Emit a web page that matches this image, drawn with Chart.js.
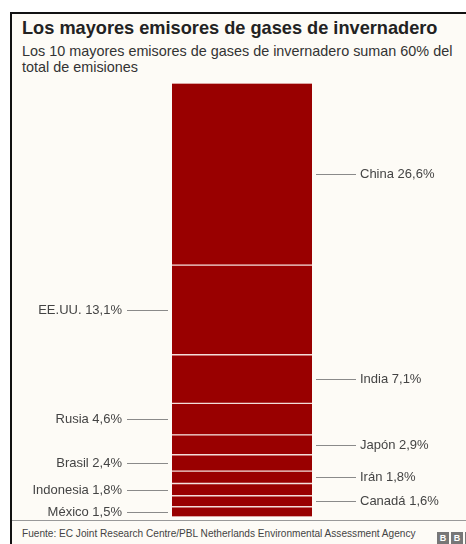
<!DOCTYPE html>
<html>
<head>
<meta charset="utf-8">
<script src="https://cdn.jsdelivr.net/npm/chart.js@4"></script>
<style>
  html, body { margin: 0; padding: 0; width: 466px; height: 544px; overflow: hidden; background: #fff; }
  #frame {
    position: absolute; left: 10px; top: 12px; width: 470px; height: 540px;
    border-left: 2px solid #111; border-top: 2px solid #111;
    background: #fdfbf6; font-family: "Liberation Sans", Arial, sans-serif;
  }
  #title { position: absolute; left: 10px; top: 4px; font-size: 18.2px; font-weight: bold; color: #222; white-space: nowrap; }
  #subtitle { position: absolute; left: 10px; top: 29px; width: 436px; font-size: 14.4px; line-height: 16px; color: #333; }
  #chartBox { position: absolute; left: -12px; top: 63px; width: 466px; height: 443px; }
  #footer { position: absolute; left: 0; top: 506px; width: 470px; border-top: 1px solid #999; height: 30px; }
  #source { position: absolute; left: 10px; top: 7px; font-size: 10.1px; color: #444; white-space: nowrap; }
  #logo { position: absolute; left: 425px; top: 6px; }
  #logo span { display: inline-block; width: 12px; height: 12px; margin-right: 2px; background: #777; color: #fff; font-size: 9px; font-weight: bold; text-align: center; line-height: 12px; }
</style>
</head>
<body>
<div id="frame">
  <div id="title">Los mayores emisores de gases de invernadero</div>
  <div id="subtitle">Los 10 mayores emisores de gases de invernadero suman 60% del total de emisiones</div>
  <div id="chartBox"><canvas id="emisores"></canvas></div>
  <div id="footer">
    <div id="source">Fuente: EC Joint Research Centre/PBL Netherlands Environmental Assessment Agency</div>
    <div id="logo"><span>B</span><span>B</span><span>C</span></div>
  </div>
</div>
<script>
// top to bottom as in the picture
const countries = ['China', 'EE.UU.', 'India', 'Rusia', 'Japón', 'Brasil', 'Irán', 'Indonesia', 'Canadá', 'México'];
const shares = [26.6, 13.1, 7.1, 4.6, 2.9, 2.4, 1.8, 1.8, 1.6, 1.5];

const total = shares.reduce((a, b) => a + b, 0);

// Chart.js stacks from the bottom, so feed the list reversed
const datasets = countries.map((c, i) => ({
    label: c,
    data: [shares[i]],
    backgroundColor: '#990000',
    borderColor: '#f3dcd8',
    borderWidth: { top: 1, bottom: 1, left: 0, right: 0 },
    borderSkipped: false,
    barThickness: 140
})).reverse();

// leader lines + labels, alternating right / left
const leaderLabels = {
    id: 'leaderLabels',
    afterDatasetsDraw(chart) {
        const ctx = chart.ctx;
        ctx.save();
        ctx.font = '13px "Liberation Sans", Arial, sans-serif';
        ctx.textBaseline = 'middle';
        chart.data.datasets.forEach((ds, di) => {
            const el = chart.getDatasetMeta(di).data[0];
            const idx = countries.indexOf(ds.label);
            const y = Math.round((el.y + el.base) / 2) + 0.5;
            const left = el.x - el.width / 2;
            const right = el.x + el.width / 2;
            const txt = ds.label + ' ' + shares[idx].toFixed(1).replace('.', ',') + '%';
            ctx.strokeStyle = '#8a8a8a';
            ctx.lineWidth = 1;
            ctx.fillStyle = '#444';
            ctx.beginPath();
            if (idx % 2 === 0) {
                ctx.moveTo(right + 4, y);
                ctx.lineTo(right + 44, y);
                ctx.stroke();
                ctx.textAlign = 'left';
                ctx.fillText(txt, right + 48, y);
            } else {
                ctx.moveTo(left - 4, y);
                ctx.lineTo(left - 45, y);
                ctx.stroke();
                ctx.textAlign = 'right';
                ctx.fillText(txt, left - 50, y);
            }
        });
        ctx.restore();
    }
};

new Chart(document.getElementById('emisores'), {
    type: 'bar',
    data: { labels: [''], datasets: datasets },
    options: {
        responsive: true,
        maintainAspectRatio: false,
        animation: false,
        layout: { padding: { left: 18, right: 0, top: 6, bottom: 3 } },
        plugins: { legend: { display: false }, tooltip: { enabled: false } },
        scales: {
            x: { stacked: true, display: false },
            y: { stacked: true, display: false, min: 0, max: total }
        }
    },
    plugins: [leaderLabels]
});
</script>
</body>
</html>
